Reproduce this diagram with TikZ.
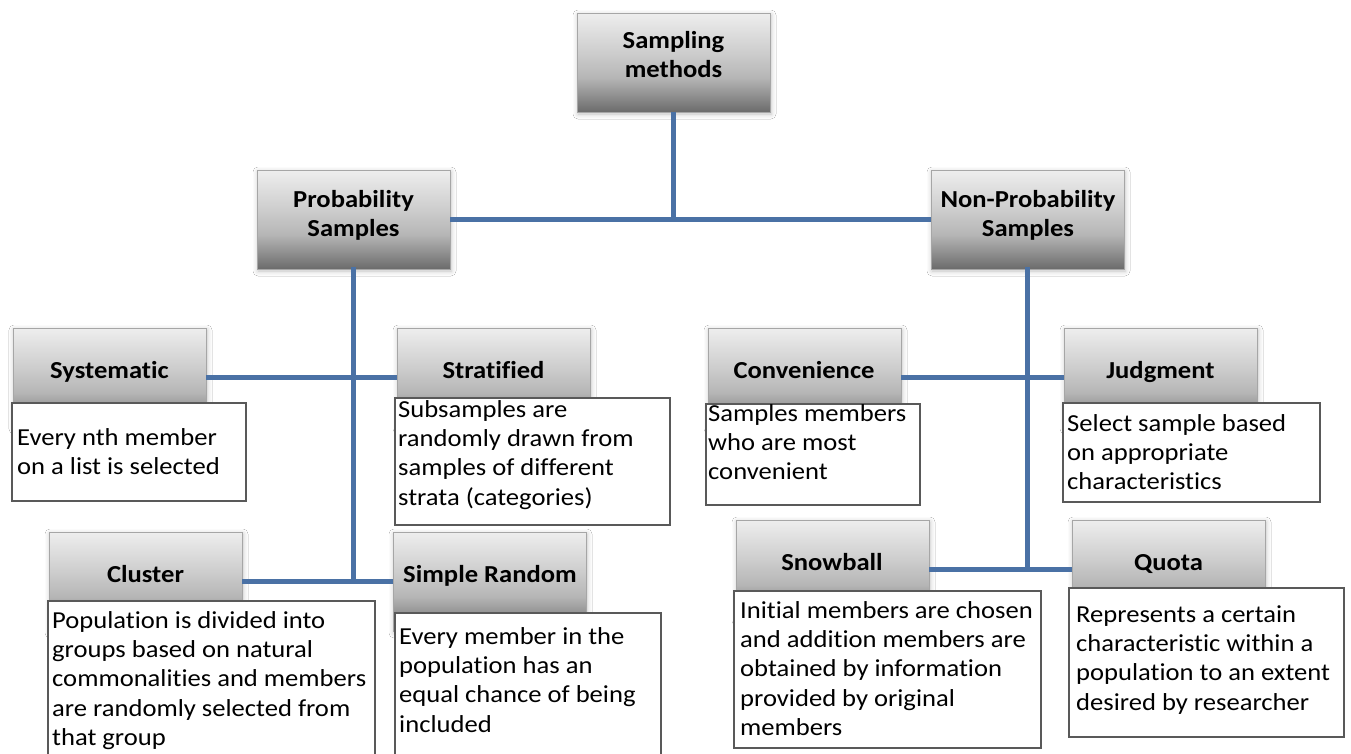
\documentclass[tikz,border=0pt]{standalone}
\usepackage{fontspec}
\setmainfont{Carlito}[FakeStretch=1.09, Ligatures={NoCommon,NoContextual}]
\usetikzlibrary{shadows.blur}

\definecolor{linkblue}{RGB}{74,113,165}
\definecolor{gradA}{HTML}{6B6B6B}
\definecolor{gradB}{HTML}{8C8C8C}
\definecolor{gradC}{HTML}{B6B6B6}
\definecolor{gradD}{HTML}{CDCDCD}
\definecolor{gradE}{HTML}{EEEEEE}

% grey gradient of the heading boxes (light on top, dark at the bottom)
\pgfdeclareverticalshading{headgrad}{100bp}{%
  color(0bp)=(gradA); color(25bp)=(gradA); color(32.5bp)=(gradB);
  color(42.5bp)=(gradC); color(55bp)=(gradD); color(75bp)=(gradE);
  color(100bp)=(gradE)}

\newcommand\diagfont{\fontsize{24.4pt}{29.3pt}\selectfont}

\tikzset{
  headbox/.style={draw=black!35, line width=0.6pt, shade, shading=headgrad,
    minimum width=193pt, minimum height=99pt, inner sep=0pt, outer sep=0pt,
    anchor=north west,
    blur shadow={shadow xshift=1pt, shadow yshift=-2pt,
      shadow blur radius=5pt, shadow opacity=25}},
  headtext/.style={font=\diagfont\bfseries, inner sep=0pt, align=center},
  notebox/.style={draw=black!65, line width=1.2pt, fill=white,
    inner sep=0pt, outer sep=0pt, anchor=north west},
  notetext/.style={font=\diagfont, inner sep=0pt, anchor=north west, align=left},
  link/.style={draw=linkblue, line width=4.6pt},
}

\begin{document}
\begin{tikzpicture}[x=1pt,y=-1pt]
\useasboundingbox (0,0) rectangle (1351,753);
\fill[white] (0,0) rectangle (1351,753);
\clip (0,0) rectangle (1351,753);

% heading boxes
\node[headbox] (root)    at (577,13)   {};
\node[headbox] (prob)    at (257,170)  {};
\node[headbox] (nonprob) at (931,170)  {};
\node[headbox] (sys)     at (13,328)   {};
\node[headbox] (strat)   at (397,328)  {};
\node[headbox] (conv)    at (708,328)  {};
\node[headbox] (judg)    at (1064,328) {};
\node[headbox] (clus)    at (49,532)   {};
\node[headbox] (srand)   at (393,532)  {};
\node[headbox] (snow)    at (736,520)  {};
\node[headbox] (quota)   at (1072,520) {};

% connectors
\draw[link] (root.south) -- (root.south |- prob.east);
\draw[link] (prob.east) -- (nonprob.west);
\draw[link, line cap=rect] (prob.south) -- (prob.south |- clus.east);
\draw[link] (sys.east) -- (strat.west);
\draw[link] (clus.east) -- (srand.west);
\draw[link, line cap=rect] (nonprob.south) -- (nonprob.south |- snow.east);
\draw[link] (conv.east) -- (judg.west);
\draw[link] (snow.east) -- (quota.west);

% heading texts
\node[headtext, anchor=north] (roott) at (673.5,27.5) {\strut Sampling\\methods};
\node[headtext, anchor=north] (probt) at (353.5,186.5) {\strut Probability\\Samples};
\node[headtext, anchor=north] (nonprobt) at (1028,186.5) {\strut Non-Probability\\Samples};
\node[headtext, anchor=base] (syst)   at (109.5,378) {Systematic};
\node[headtext, anchor=base] (stratt) at (493.5,378) {Stratified};
\node[headtext, anchor=base] (convt)  at (804,378)   {Convenience};
\node[headtext, anchor=base] (judgt)  at (1160.5,378) {Judgment};
\node[headtext, anchor=base] (clust)  at (145.5,582) {Cluster};
\node[headtext, anchor=base] (srandt) at (490,582)   {Simple Random};
\node[headtext, anchor=base] (snowt)  at (832,570)   {Snowball};
\node[headtext, anchor=base] (quotat) at (1168.5,570) {Quota};

% description boxes
\node[notebox, minimum width=234pt, minimum height=98pt]  (sysn)   at (12,403)   {};
\node[notebox, minimum width=275pt, minimum height=127pt] (stratn) at (395,398)  {};
\node[notebox, minimum width=214pt, minimum height=101pt] (convn)  at (706,404)  {};
\node[notebox, minimum width=257pt, minimum height=99pt]  (judgn)  at (1063,403) {};
\node[notebox, minimum width=327pt, minimum height=170pt] (clusn)  at (48,601)   {};
\node[notebox, minimum width=266pt, minimum height=160pt] (srandn) at (395,613)  {};
\node[notebox, minimum width=307pt, minimum height=157pt] (snown)  at (734,591)  {};
\node[notebox, minimum width=275pt, minimum height=149pt] (quotan) at (1069,588) {};

% description texts
\node[notetext] (sysd)   at (17,424.5)    {\strut Every nth member\\on a list is selected};
\node[notetext] (stratd) at (398,396.5)   {\strut Subsamples are\\randomly drawn from\\samples of different\\strata (categories)};
\node[notetext] (convd)  at (708,400.5)   {\strut Samples members\\who are most\\convenient};
\node[notetext] (judgd)  at (1067,410.5)  {\strut Select sample based\\on appropriate\\characteristics};
\node[notetext] (clusd)  at (52,607.5)    {\strut Population is divided into\\groups based on natural\\commonalities and members\\are randomly selected from\\that group};
\node[notetext] (srandd) at (399,623.5)   {\strut Every member in the\\population has an\\equal chance of being\\included};
\node[notetext] (snowd)  at (740,597.5)   {\strut Initial members are chosen\\and addition members are\\obtained by information\\provided by original\\members};
\node[notetext] (quotad) at (1076,601.5)  {\strut Represents a certain\\characteristic within a\\population to an extent\\desired by researcher};
\end{tikzpicture}
\end{document}
